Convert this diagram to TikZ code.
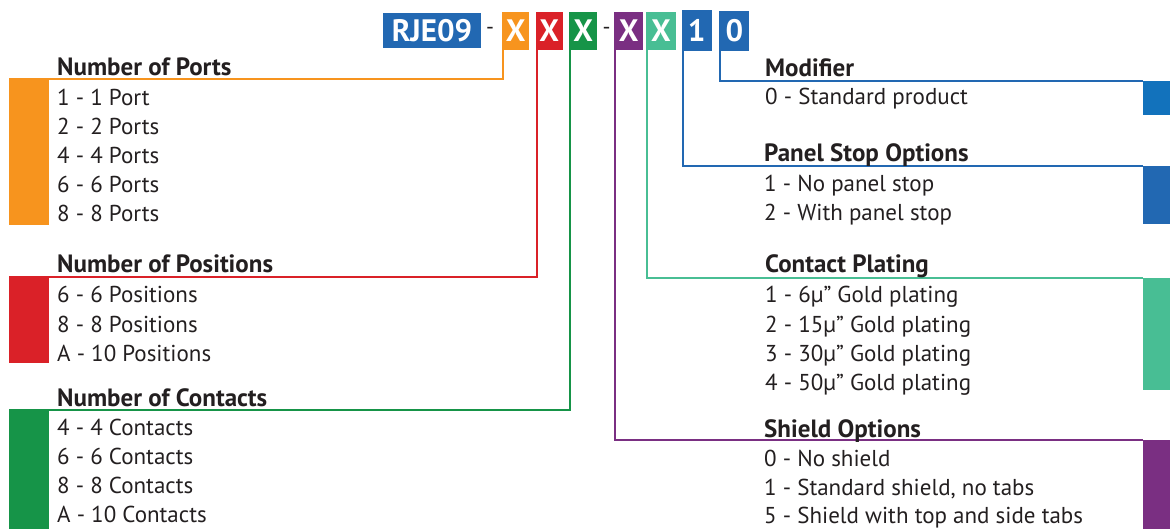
\documentclass[tikz,border=0pt]{standalone}
\usepackage{fontspec}
\setmainfont{PT Sans}
\usetikzlibrary{positioning,calc}
\definecolor{PortOrange}{RGB}{247,148,30}
\definecolor{PosRed}{RGB}{218,33,40}
\definecolor{ContGreen}{RGB}{22,148,72}
\definecolor{ShieldPurple}{RGB}{122,47,130}
\definecolor{PlateTeal}{RGB}{72,190,148}
\definecolor{CodeBlue}{RGB}{34,104,178}
\definecolor{ModBlue}{RGB}{18,114,188}
\definecolor{TextBlack}{RGB}{35,31,32}
\tikzset{
  code/.style={fill=#1,text=white,font=\bfseries\fontsize{31}{31}\selectfont,inner sep=0pt,minimum width=28pt,minimum height=38pt},
  sep/.style={text=TextBlack,font=\fontsize{22}{22}\selectfont,inner sep=0pt},
  bar/.style={fill=#1,inner sep=0pt,anchor=north west},
  lead/.style={draw=#1,line width=2pt},
  title/.style={anchor=base west,inner sep=0pt,text=TextBlack,font=\bfseries\fontsize{25}{25}\selectfont},
  item/.style={anchor=base west,inner sep=0pt,text=TextBlack,font=\fontsize{23}{23}\selectfont},
}

\begin{document}
\begin{tikzpicture}[x=1pt,y=-1pt]
\useasboundingbox (0,0) rectangle (1170,529);
% part number
\node[code=CodeBlue,minimum width=98pt,minimum height=35pt] (rje) at (432,30.5) {RJE09};
\node[sep] (d1) at (490,31) {-};
\node[code=PortOrange,minimum width=27pt] (xports) at (515.8,31) {X};
\node[code=PosRed,minimum width=27pt] (xpos) at (549.2,31) {X};
\node[code=ContGreen] (xcont) at (583.3,31) {X};
\node[sep] (d2) at (606.7,31) {-};
\node[code=ShieldPurple,minimum width=29pt] (xshield) at (628.8,31) {X};
\node[code=PlateTeal,minimum width=30pt] (xplate) at (661,31) {X};
\node[code=CodeBlue,minimum width=30pt,minimum height=41pt] (xpanel) at (696.7,30.8) {1};
\node[code=CodeBlue,minimum width=30pt,minimum height=40pt] (xmod) at (734.3,30.8) {0};
% colour bars
\node[bar=PortOrange,minimum width=40pt,minimum height=146pt] (bports) at (9,79) {};
\node[bar=PosRed,minimum width=40pt,minimum height=86pt] (bpos) at (9,277) {};
\node[bar=ContGreen,minimum width=40pt,minimum height=119pt] (bcont) at (9,410) {};
\node[bar=ModBlue,minimum width=27pt,minimum height=34pt] (bmod) at (1143,81) {};
\node[bar=CodeBlue,minimum width=27pt,minimum height=58pt] (bpanel) at (1143,166) {};
\node[bar=PlateTeal,minimum width=27pt,minimum height=112pt] (bplate) at (1143,278) {};
\node[bar=ShieldPurple,minimum width=27pt,minimum height=89pt] (bshield) at (1143,440) {};
% leads
\draw[lead=PortOrange] ($(xports.south west)+(1,0)$) |- (bports.north west);
\draw[lead=PosRed] ($(xpos.south west)+(1,0)$) |- (bpos.north west);
\draw[lead=ContGreen] ($(xcont.south west)+(1,0)$) |- (bcont.north west);
\draw[lead=ShieldPurple] ($(xshield.south west)+(1,0)$) |- (bshield.north west);
\draw[lead=PlateTeal] ($(xplate.south west)+(1,0)$) |- (bplate.north west);
\draw[lead=CodeBlue] ($(xpanel.south west)+(1,0)$) |- (bpanel.north west);
\draw[lead=CodeBlue] ($(xmod.south west)+(1,0)$) |- (bmod.north west);
% left column
\node[title] (tports) at (57,76) {Number of Ports};
\node[item] (p1) at (57,106) {1 - 1 Port};
\node[item] (p2) at (57,135) {2 - 2 Ports};
\node[item] (p4) at (57,164) {4 - 4 Ports};
\node[item] (p6) at (57,193) {6 - 6 Ports};
\node[item] (p8) at (57,222) {8 - 8 Ports};
\node[title] (tpos) at (57,273) {Number of Positions};
\node[item] (q6) at (57,303) {6 - 6 Positions};
\node[item] (q8) at (57,332) {8 - 8 Positions};
\node[item] (qa) at (57,361) {A - 10 Positions};
\node[title] (tcont) at (57,406) {Number of Contacts};
\node[item] (c4) at (57,435) {4 - 4 Contacts};
\node[item] (c6) at (57,464) {6 - 6 Contacts};
\node[item] (c8) at (57,493) {8 - 8 Contacts};
\node[item] (ca) at (57,522) {A - 10 Contacts};
% right column
\node[title] (tmod) at (765,77) {Modifier};
\node[item] (m0) at (765,105) {0 - Standard product};
\node[title] (tpanel) at (764,162) {Panel Stop Options};
\node[item] (s1) at (764,192) {1 - No panel stop};
\node[item] (s2) at (764,221) {2 - With panel stop};
\node[title] (tplate) at (765,273) {Contact Plating};
\node[item] (g1) at (765,303) {1 - 6µ” Gold plating};
\node[item] (g2) at (765,332) {2 - 15µ” Gold plating};
\node[item] (g3) at (765,361) {3 - 30µ” Gold plating};
\node[item] (g4) at (765,390) {4 - 50µ” Gold plating};
\node[title] (tshield) at (764,437) {Shield Options};
\node[item] (h0) at (764,466) {0 - No shield};
\node[item] (h1) at (764,495) {1 - Standard shield, no tabs};
\node[item] (h5) at (764,523) {5 - Shield with top and side tabs};
\end{tikzpicture}
\end{document}
